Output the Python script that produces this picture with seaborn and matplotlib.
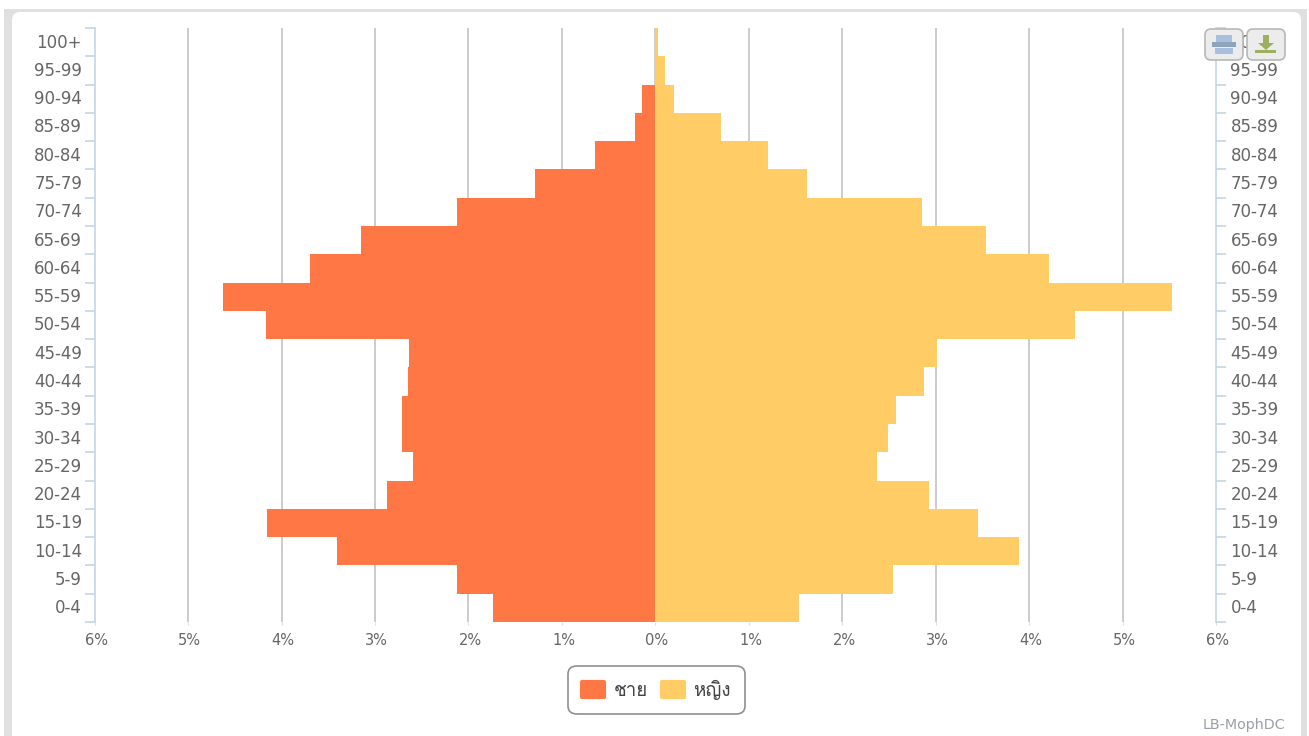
import pandas as pd
import seaborn as sns
import matplotlib.pyplot as plt
from matplotlib import font_manager
from matplotlib.patches import FancyBboxPatch, Rectangle
from matplotlib.transforms import ScaledTranslation

W, H = 1309, 736

# Age bands, top of the pyramid first
age_groups = ['100+', '95-99', '90-94', '85-89', '80-84', '75-79', '70-74', '65-69', '60-64', '55-59', '50-54',
              '45-49', '40-44', '35-39', '30-34', '25-29', '20-24', '15-19', '10-14', '5-9', '0-4']
male = [0.0, 0.0, 0.14, 0.22, 0.65, 1.29, 2.12, 3.15, 3.69, 4.63, 4.17,
        2.64, 2.65, 2.71, 2.71, 2.59, 2.87, 4.15, 3.41, 2.12, 1.74]
female = [0.03, 0.10, 0.20, 0.70, 1.20, 1.62, 2.85, 3.53, 4.21, 5.52, 4.49,
          3.01, 2.87, 2.57, 2.49, 2.37, 2.93, 3.45, 3.89, 2.54, 1.53]
x_ticks = [-6, -5, -4, -3, -2, -1, 0, 1, 2, 3, 4, 5, 6]
male_label = 'ชาย'
female_label = 'หญิง'

df = pd.DataFrame({
    'age': age_groups * 2,
    'pct': [-v for v in male] + female,
    'sex': [male_label] * len(male) + [female_label] * len(female),
})

sns.set_style('white')
plt.rcParams['font.family'] = ['DejaVu Sans']
text_color = '#666666'
axis_color = '#c5d4e6'

# Look for any installed family with Thai glyphs for the legend
thai_families = []
for f in font_manager.fontManager.ttflist:
    try:
        if 0x0E0A in font_manager.get_font(f.fname).get_charmap() and f.name not in thai_families:
            thai_families.append(f.name)
    except Exception:
        pass

fig = plt.figure(figsize=(W / 100, H / 100), dpi=100, facecolor='white')


def box(x0, y0, x1, y1, radius=0, **kw):
    # pixel box in reference coords (y down), drawn on the figure
    style = f'round,pad=0,rounding_size={radius}' if radius else 'square,pad=0'
    patch = FancyBboxPatch((x0, H - y1), x1 - x0, y1 - y0, boxstyle=style,
                           transform=None, **kw)
    fig.add_artist(patch)
    return patch


# Card behind the chart
box(4, 9, 1307, 745, facecolor='#e0e0e0', edgecolor='none', zorder=-10)
box(12, 12, 1301, 760, radius=8, facecolor='white', edgecolor='none', zorder=-9)

ax = fig.add_axes([94.5 / W, (H - 622) / H, (1216.5 - 94.5) / W, (622 - 28) / H])
ax.patch.set_alpha(0)
sns.barplot(data=df, y='age', x='pct', hue='sex', order=age_groups, orient='h', dodge=False, width=1.0,
            palette=['#ff7744', '#ffcc66'], saturation=1, linewidth=0, ax=ax, zorder=3)

ax.set_xlim(-6, 6)
ax.set_ylim(len(age_groups) - 0.5, -0.5)
ax.set_xlabel('')
ax.set_ylabel('')

for v in x_ticks[1:-1]:
    ax.axvline(v, color='#c4c4c4', lw=1.2, zorder=1)

ax.set_xticks(x_ticks)
ax.set_xticklabels([f'{abs(v)}%' for v in x_ticks], color=text_color, fontsize=10.5)
ax.tick_params(axis='x', length=2, width=0.8, color='#dddddd', pad=6, bottom=True)

edges = [i - 0.5 for i in range(len(age_groups) + 1)]
ax.set_yticks(range(len(age_groups)))
ax.set_yticklabels(age_groups, color=text_color, fontsize=12)
ax.set_yticks(edges, minor=True)
ax.tick_params(axis='y', which='major', length=0, pad=9)
ax.tick_params(axis='y', which='minor', length=7, width=1.2, color=axis_color, left=True)

right = ax.twinx()
right.set_ylim(ax.get_ylim())
right.set_yticks(range(len(age_groups)))
right.set_yticklabels(age_groups, color=text_color, fontsize=12)
right.set_yticks(edges, minor=True)
right.tick_params(axis='y', which='major', length=0, pad=10)
right.tick_params(axis='y', which='minor', length=7, width=1.2, color=axis_color, right=True, direction='out')

# Labels sit a touch above the band centres, % labels a touch right of the ticks
up = ScaledTranslation(0, 1.5 / 100, fig.dpi_scale_trans)
nudge = ScaledTranslation(1.5 / 100, 0, fig.dpi_scale_trans)
for label in ax.get_yticklabels() + right.get_yticklabels():
    label.set_transform(label.get_transform() + up)
for label in ax.get_xticklabels():
    label.set_transform(label.get_transform() + nudge)

for a in (ax, right):
    a.spines['left'].set_color(axis_color)
    a.spines['right'].set_color(axis_color)
    a.spines['left'].set_linewidth(1.2)
    a.spines['right'].set_linewidth(1.2)
    a.spines['top'].set_visible(False)
    a.spines['bottom'].set_visible(False)
ax.spines['right'].set_visible(False)
right.spines['left'].set_visible(False)

handles, labels = ax.get_legend_handles_labels()
leg = ax.legend(handles, labels, loc='center', bbox_to_anchor=(656.5 / W, (H - 690) / H),
                bbox_transform=fig.transFigure, ncol=2, frameon=True, labelcolor='#444444',
                handlelength=1.17, handleheight=0.8, handletextpad=0.5, columnspacing=0.75, borderpad=0.75,
                fancybox=True, edgecolor='#909090', facecolor='white', framealpha=1,
                prop={'family': thai_families + ['DejaVu Sans'], 'size': 13.5})
leg.get_frame().set_linewidth(1.2)
leg.get_frame().set_boxstyle('round', pad=0, rounding_size=0.45)
leg.set_zorder(10)
for h in leg.legend_handles:
    h.set_edgecolor(h.get_facecolor())
    h.set_linewidth(3)
    h.set_joinstyle('round')

# Print and download buttons over the top right corner
for x0, x1 in [(1205, 1243), (1247, 1285)]:
    box(x0, 29, x1, 60, radius=6, facecolor='#ececec', edgecolor='#b8b8b8', linewidth=1.2, zorder=20)
for x0, y0, x1, y1, c in [(1216, 35, 1232, 42, '#a8c0de'), (1212, 42, 1236, 47, '#8ea4bd'),
                          (1215, 48, 1233, 54, '#a8c0de'),
                          (1263, 35, 1269, 44, '#9cb060'), (1255, 50, 1276, 53, '#9cb060')]:
    fig.add_artist(Rectangle((x0, H - y1), x1 - x0, y1 - y0, transform=None, facecolor=c,
                             edgecolor='none', zorder=21))
fig.add_artist(plt.Polygon([(1258, H - 43), (1274, H - 43), (1266, H - 50)], transform=None,
                           facecolor='#9cb060', edgecolor='none', zorder=21))

fig.text(1285 / W, (H - 725) / H, 'LB-MophDC', ha='right', va='center', color='#9aa0a8', fontsize=10.3)

plt.savefig('out.png', dpi=100)
